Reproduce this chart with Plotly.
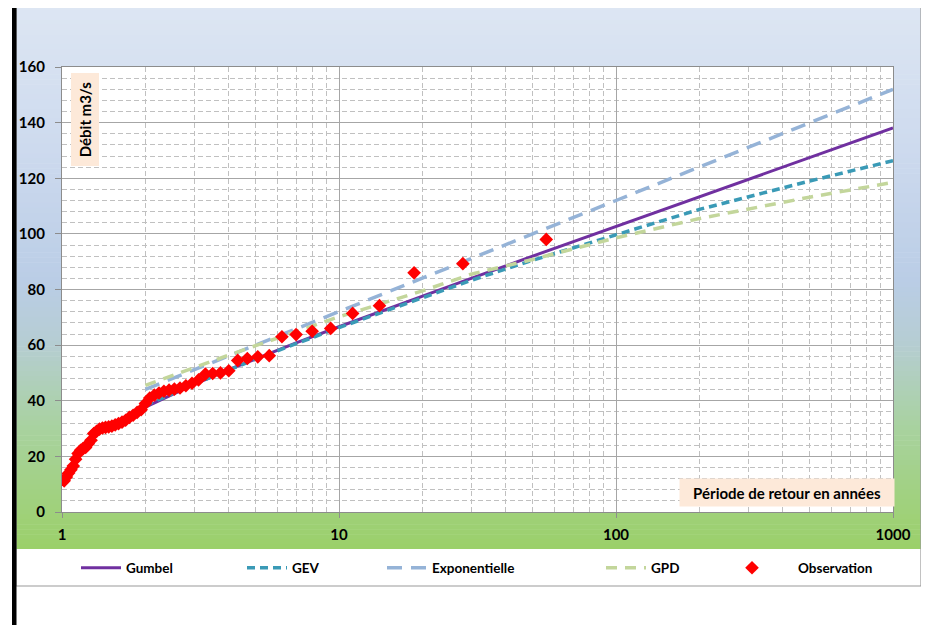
import plotly.graph_objects as go

# ---------------- data ----------------
obs_T = [56.0, 28.0, 18.667, 14.0, 11.2, 9.333, 8.0, 7.0, 6.222, 5.6, 5.091, 4.667,
         4.308, 4.0, 3.733, 3.5, 3.294, 3.111, 2.947, 2.8, 2.667, 2.545, 2.435, 2.333,
         2.24, 2.154, 2.074, 2.0, 1.931, 1.867, 1.806, 1.75, 1.697, 1.647, 1.6, 1.556,
         1.514, 1.474, 1.436, 1.4, 1.366, 1.333, 1.302, 1.273, 1.244, 1.217, 1.191,
         1.167, 1.143, 1.12, 1.098, 1.077, 1.057, 1.037, 1.018]
obs_Q = [98.0, 89.3, 86.0, 74.2, 71.4, 66.0, 65.0, 63.8, 63.0, 56.2, 55.8, 55.2,
         54.5, 50.8, 50.0, 49.8, 49.6, 47.5, 46.3, 45.4, 44.6, 44.2, 43.8, 43.4,
         42.8, 42.0, 41.0, 39.0, 36.8, 35.8, 34.8, 34.0, 33.0, 32.3, 31.8, 31.3,
         30.9, 30.6, 30.4, 30.2, 29.8, 29.0, 28.2, 25.8, 24.5, 23.2, 22.8, 22.2,
         21.0, 19.0, 16.5, 15.2, 14.0, 12.6, 11.2]

fit_T = [2, 3, 4, 5, 7, 10, 20, 30, 50, 100, 200, 500, 1000]
gumbel_Q = [37.7, 45.9, 51.2, 55.1, 60.8, 66.6, 77.7, 84.0, 92.0, 102.7, 113.4, 127.4, 138.1]
gev_Q = [38.3, 46.0, 51.0, 55.0, 60.5, 66.3, 77.0, 83.3, 90.5, 99.6, 108.8, 119.0, 126.3]
expo_Q = [44.1, 51.1, 56.1, 60.0, 65.9, 72.0, 84.1, 91.1, 100.0, 112.0, 124.0, 140.0, 152.0]
gpd_Q = [45.5, 52.0, 56.4, 59.8, 64.8, 70.2, 79.5, 85.5, 90.8, 98.6, 105.5, 113.2, 118.5]

x_major_ticks = [1, 10, 100, 1000]
x_minor_ticks = [2, 3, 4, 5, 6, 7, 8, 9, 20, 30, 40, 50, 60, 70, 80, 90,
                 200, 300, 400, 500, 600, 700, 800, 900]

y_title = "Débit m3/s"
x_title = "Période de retour en années"

# ---------------- geometry helpers (screen pixel -> paper) ----------------
OFF = 8                      # page body margin
W, H = 929 - OFF, 625 - OFF  # figure size
PL, PR, PT, PB = 62, 893, 67, 512   # plot area in screen pixels


def px(x):
    return (x - PL) / (PR - PL)


def py(y):
    return (PB - y) / (PB - PT)


FONT = "Lato, 'Open Sans', sans-serif"

fig = go.Figure()

fig.add_trace(go.Scatter(x=fit_T, y=gumbel_Q, mode="lines", name="Gumbel",
                         line=dict(color="#7030a0", width=3), legend="legend"))
fig.add_trace(go.Scatter(x=fit_T, y=gev_Q, mode="lines", name="GEV",
                         line=dict(color="#3a9ab6", width=3.5, dash="8px,5px"),
                         legend="legend2"))
fig.add_trace(go.Scatter(x=fit_T, y=expo_Q, mode="lines", name="Exponentielle",
                         line=dict(color="#95b3d7", width=3.5, dash="15px,9px"),
                         legend="legend3"))
fig.add_trace(go.Scatter(x=fit_T, y=gpd_Q, mode="lines", name="GPD",
                         line=dict(color="#c3d69b", width=3.5, dash="11px,8px"),
                         legend="legend4"))
fig.add_trace(go.Scatter(x=obs_T, y=obs_Q, mode="markers", name="Observation",
                         marker=dict(symbol="diamond", size=10.5, color="#ff0000",
                                     line=dict(width=0)),
                         legend="legend5"))

# ---------------- background shapes ----------------
shapes = []
stops = [(5, (221, 230, 243)), (150, (205, 218, 238)), (280, (186, 205, 230)),
         (340, (182, 205, 212)), (430, (168, 210, 158)), (549, (155, 208, 105))]


def col_at(y):
    for (y0, c0), (y1, c1) in zip(stops[:-1], stops[1:]):
        if y0 <= y <= y1:
            t = (y - y0) / (y1 - y0)
            return "rgb(%d,%d,%d)" % tuple(round(a + (b - a) * t) for a, b in zip(c0, c1))
    return "rgb(%d,%d,%d)" % stops[-1][1]


n = 110
top, bot = 5, 549
step = (bot - top) / n
for i in range(n):
    y0 = top + i * step
    y1 = y0 + step + 0.6
    shapes.append(dict(type="rect", xref="paper", yref="paper", layer="below",
                       x0=px(16), x1=px(921), y0=py(min(y1, bot)), y1=py(y0),
                       fillcolor=col_at(y0 + step / 2), line=dict(width=0)))
# plot area white
shapes.append(dict(type="rect", xref="paper", yref="paper", layer="below",
                   x0=0, x1=1, y0=0, y1=1, fillcolor="white", line=dict(width=0)))
# outer frame
shapes.append(dict(type="rect", xref="paper", yref="paper", layer="below",
                   x0=px(16), x1=px(921), y0=py(586), y1=py(5),
                   fillcolor="rgba(0,0,0,0)", line=dict(color="#9a9a9a", width=1.2)))
# black left bar
shapes.append(dict(type="rect", xref="paper", yref="paper", layer="above",
                   x0=px(12), x1=px(16.5), y0=py(640), y1=py(0),
                   fillcolor="black", line=dict(width=0)))

annotations = [
    dict(text="<b>%s</b>" % y_title, xref="paper", yref="paper",
         x=px(84.5), y=py(120), xanchor="center", yanchor="middle",
         textangle=-90, showarrow=False, bgcolor="#fde9d9",
         width=90, height=25, font=dict(family=FONT, size=15, color="black")),
    dict(text="<b>%s</b>" % x_title, xref="paper", yref="paper",
         x=px(895), y=py(492), xanchor="right", yanchor="middle",
         showarrow=False, bgcolor="#fde9d9", width=212, height=25,
         font=dict(family=FONT, size=15, color="black")),
]

legend_font = dict(family=FONT, size=13.5, color="black", weight="bold")


def leg(text_start, itemwidth=30):
    return dict(x=px(text_start - 40 - (itemwidth - 30)), y=py(568),
                xanchor="left", yanchor="middle",
                orientation="h", bgcolor="rgba(0,0,0,0)", borderwidth=0,
                itemwidth=itemwidth,
                font=legend_font, itemclick=False, itemdoubleclick=False)


tick_font = dict(family=FONT, size=15, color="black", weight="bold")

fig.update_layout(
    width=W, height=H,
    margin=dict(l=PL - OFF, r=W - (PR - OFF), t=PT - OFF, b=H - (PB - OFF),
                autoexpand=False),
    paper_bgcolor="white", plot_bgcolor="white",
    showlegend=True,
    legend=leg(126, 40), legend2=leg(292, 40), legend3=leg(432, 40),
    legend4=leg(651, 40), legend5=leg(798, 82),
    shapes=shapes, annotations=annotations,
    xaxis=dict(type="log", range=[0, 3], tickvals=x_major_ticks,
               ticktext=[str(v) for v in x_major_ticks],
               showgrid=True, gridcolor="#a6a6a6", gridwidth=1.3,
               showline=True, linecolor="#8c8c8c", linewidth=1.3, mirror=True,
               ticks="outside", ticklen=5, tickcolor="#8c8c8c",
               ticklabelstandoff=4, tickfont=tick_font, zeroline=False,
               minor=dict(tickvals=x_minor_ticks, showgrid=True,
                          gridcolor="#c0c0c0", gridwidth=1, griddash="5px,3px",
                          ticks="")),
    yaxis=dict(range=[0, 160], dtick=20, tick0=0,
               showgrid=True, gridcolor="#a6a6a6", gridwidth=1.3,
               showline=True, linecolor="#8c8c8c", linewidth=1.3, mirror=True,
               ticks="outside", ticklen=6, tickcolor="#8c8c8c",
               ticklabelstandoff=7, tickfont=tick_font, zeroline=False,
               minor=dict(dtick=4, showgrid=True, gridcolor="#c0c0c0",
                          gridwidth=1, griddash="5px,3px", ticks="")),
)

fig.write_html("out.html")
